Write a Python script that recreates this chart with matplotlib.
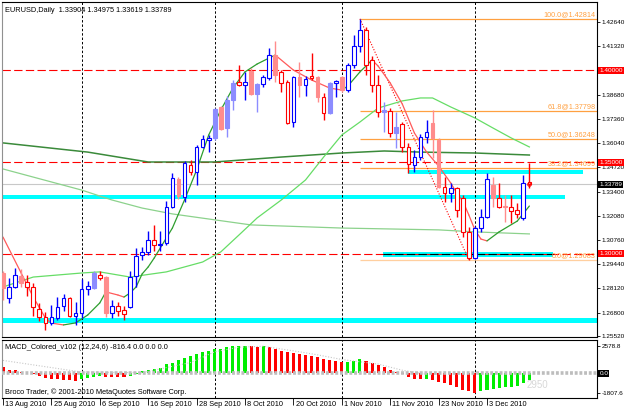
import matplotlib
matplotlib.use("Agg")
import matplotlib.pyplot as plt
import matplotlib.transforms as mtransforms
from matplotlib.patches import Rectangle

plt.rcParams['font.family'] = ['Liberation Sans', 'DejaVu Sans']

# ---------------- data ----------------
OPEN = [1.2896,1.2760,1.2820,1.2880,1.2847,1.2820,1.2700,1.2656,1.2623,1.2651,
        1.2716,1.2760,1.2662,1.2678,1.2809,1.2815,1.2885,1.2874,1.2678,1.2716,
        1.2694,1.2711,1.2880,1.2994,1.3011,1.3076,1.3049,1.3060,1.3256,1.3408,
        1.3310,1.3485,1.3447,1.3583,1.3621,1.3632,1.3801,1.3687,1.3839,1.3937,
        1.3921,1.3997,1.3872,1.3926,1.3959,1.4084,1.3992,1.3937,1.3719,1.3964,
        1.3921,1.3970,1.3964,1.3855,1.3768,1.3932,1.3964,1.3893,1.4030,1.4133,
        1.4220,1.4057,1.3921,1.3773,1.3779,1.3659,1.3708,1.3583,1.3485,1.3528,
        1.3637,1.3714,1.3621,1.3365,1.3332,1.3359,1.3305,1.3120,1.2978,1.3141,
        1.3201,1.3376,1.3305,1.3261,1.3256,1.3239,1.3196,1.33904]
HIGH = [1.2907,1.2869,1.2923,1.2918,1.2885,1.2842,1.2733,1.2684,1.2722,1.2765,
        1.2782,1.2765,1.2738,1.2863,1.2853,1.2907,1.2907,1.2880,1.2749,1.2738,
        1.2716,1.2907,1.3033,1.3038,1.3125,1.3158,1.3125,1.3288,1.3441,1.3419,
        1.3506,1.3512,1.3594,1.3648,1.3648,1.3795,1.3806,1.3861,1.3948,1.4030,
        1.3992,1.4013,1.3932,1.3975,1.4122,1.4160,1.4002,1.3948,1.3970,1.4046,
        1.3970,1.4095,1.3970,1.3877,1.3937,1.3948,1.3970,1.4041,1.4193,1.42814,
        1.4237,1.4079,1.3975,1.3828,1.3795,1.3773,1.3719,1.3605,1.3566,1.3654,
        1.3730,1.3784,1.3632,1.3419,1.3387,1.3365,1.3321,1.3147,1.3152,1.3245,
        1.3441,1.3419,1.3387,1.3321,1.3321,1.3278,1.3430,1.34975]
LOW = [1.2749,1.2733,1.2815,1.2820,1.2771,1.2662,1.2634,1.2585,1.2613,1.2640,
       1.2689,1.2656,1.2613,1.2651,1.2776,1.2809,1.2858,1.2656,1.2651,1.2662,
       1.2640,1.2705,1.2820,1.2967,1.2994,1.3016,1.3016,1.3049,1.3250,1.3299,
       1.3283,1.3430,1.3376,1.3577,1.3555,1.3621,1.3676,1.3637,1.3784,1.3915,
       1.3839,1.3866,1.3773,1.3910,1.3948,1.3937,1.3883,1.3708,1.3692,1.3855,
       1.3861,1.3948,1.3828,1.3730,1.3763,1.3855,1.3883,1.3883,1.4013,1.4101,
       1.3975,1.3883,1.3746,1.3665,1.3637,1.3577,1.3555,1.3441,1.3447,1.3512,
       1.3605,1.3523,1.3359,1.3283,1.3283,1.3201,1.3092,1.29683,1.2970,1.3120,
       1.3196,1.3256,1.3250,1.3174,1.3169,1.3196,1.3185,1.33619]
CLOSE = [1.2815,1.2820,1.2885,1.2842,1.2820,1.2711,1.2656,1.2623,1.2656,1.2711,
         1.2760,1.2662,1.2678,1.2809,1.2825,1.2896,1.2869,1.2678,1.2716,1.2689,
         1.2673,1.2874,1.2989,1.3011,1.3076,1.3049,1.3054,1.3256,1.3414,1.3316,
         1.3496,1.3447,1.3583,1.3626,1.3632,1.3790,1.3681,1.3839,1.3932,1.3921,
         1.3937,1.3872,1.3926,1.3964,1.4084,1.3975,1.3932,1.3714,1.3964,1.3921,
         1.3953,1.3959,1.3855,1.3768,1.3932,1.3943,1.3893,1.4030,1.4133,1.4220,
         1.4030,1.3921,1.3773,1.3784,1.3659,1.3692,1.3583,1.3490,1.3528,1.3637,
         1.3665,1.3632,1.3365,1.3332,1.3359,1.3239,1.3120,1.2978,1.3141,1.3201,
         1.3408,1.3305,1.3256,1.3256,1.3234,1.3218,1.3387,1.33789]

DATE_LABELS = ['13 Aug 2010', '25 Aug 2010', '6 Sep 2010', '16 Sep 2010', '28 Sep 2010',
               '8 Oct 2010', '20 Oct 2010', '1 Nov 2010', '11 Nov 2010', '23 Nov 2010', '3 Dec 2010']
DATE_BARS = [0, 8, 16, 24, 32, 40, 48, 56, 64, 72, 80]
MONTH_START_BARS = [13, 35, 56, 78]

PRICE_TICKS = [1.4264, 1.4132, 1.3868, 1.3736, 1.3604, 1.3472, 1.3340, 1.3208,
               1.3076, 1.2944, 1.2812, 1.2680, 1.2552]
PRICE_TICK_LABELS = ['1.42640', '1.41320', '1.38680', '1.37360', '1.36040', '1.34720', '1.33400',
                     '1.32080', '1.30760', '1.29440', '1.28120', '1.26800', '1.25520']

LEVELS = [1.40000, 1.35000, 1.30000]
LEVEL_LABELS = ['1.40000', '1.35000', '1.30000']
LAST_PRICE = 1.33789

# zones (rectangles): start bar, end bar, low, high
ZONE_START = [67, -2, 62.8, -2]
ZONE_END = [95.9, 92.9, 90.9, 100]
ZONE_LOW = [1.3438, 1.3299, 1.2985, 1.2623]
ZONE_HIGH = [1.3457, 1.3321, 1.3012, 1.2651]

FIB_START_BAR = 59
FIB_END_BAR = 77
FIB_PCT = ['100.0', '61.8', '50.0', '38.2', '0.0']
FIB_PRICE = [1.42814, 1.37798, 1.36248, 1.34699, 1.29683]

FAST_BARS = [0,3,5,7,8,10,12,14,16,17,19,20,21,22,23,24,25,27,28,30,32,34,36,38,40,42,44,45,48,51,
             54,56,57,59,61,62,64,66,68,70,72,74,75,76,77,78,79,80,82,85,87]
FAST_VALS = [1.3092,1.2896,1.2765,1.2651,1.2623,1.2613,1.2624,1.2667,1.2733,1.2793,1.2776,1.2765,
             1.2787,1.2820,1.2891,1.2929,1.2978,1.3087,1.3141,1.3294,1.3457,1.3648,1.3784,1.3904,
             1.3992,1.4035,1.4068,1.4084,1.4002,1.3948,1.3904,1.3893,1.3915,1.3992,1.4057,1.4024,
             1.3932,1.3817,1.3659,1.3556,1.3479,1.3387,1.3332,1.3288,1.3212,1.3131,1.3081,1.3071,
             1.3120,1.3179,1.3261]
MID_BARS = [0,5,13,16,21,27,33,36,39,42,46,50,53,56,59,62,66,69,71,74,78,81,84,87]
MID_VALS = [1.2820,1.2874,1.2896,1.2902,1.2874,1.2902,1.2956,1.3011,1.3103,1.3196,1.3294,1.3403,
            1.3528,1.3648,1.3719,1.3795,1.3834,1.3850,1.3850,1.3801,1.3741,1.3686,1.3632,1.3583]
SLOW1_BARS = [0,13,18,23,28,41,56,72,78,87]
SLOW1_VALS = [1.3463,1.3348,1.3294,1.3250,1.3218,1.3158,1.3141,1.3131,1.3120,1.3109]
SLOW2_BARS = [0,14,24,35,46,56,63,69,78,87]
SLOW2_VALS = [1.3605,1.3555,1.3501,1.3501,1.3528,1.3550,1.3561,1.3555,1.3550,1.3539]

HIST = [574,344,287,143,57,-86,-230,-430,-520,-570,
        -600,-620,-700,-517,-459,-373,-287,-330,-350,-370,
        -380,-230,-86,200,287,373,517,861,1005,1205,
        1435,1579,1779,1952,2066,2239,2296,2440,2526,2560,
        2578.8,2540,2500,2520,2440,2296,2066,1952,1866,1779,
        1665,1600,1492,1291,1205,1148,1090,1100,1148,1291,
        1148,1005,804,574,344,143,-30,-373,-517,-574,
        -517,-660,-804,-947,-1091,-1234,-1521,-1665,-1807.6,-1665,
        -1607,-1435,-1378,-1320,-1234,-1148,-947,-660]
SIG_BARS = [0,13,23,31,35,39,43,49,52,56,62,66,70]
SIG_VALS = [1205,115,57,1005,2009,2440,2526,2009,1722,1291,861,287,-86]
MACD_MAX_LABEL = '2578.8'
MACD_MIN_LABEL = '-1807.6'
MACD_MAX = 2578.8
MACD_MIN = -1807.6
WATERMARK = '2950'

PALE = {0,3,15,17,29,35,36,37,38,41,42,45,49,52,54,56,63,65,71,72,81,83}

# ---------------- layout ----------------
W, H = 625, 411
fig = plt.figure(figsize=(W/100, H/100), dpi=100)
fig.patch.set_facecolor('white')

def fpx(x0, y0, x1, y1):
    return [x0/W, 1 - y1/H, (x1-x0)/W, (y1-y0)/H]

ax = fig.add_axes(fpx(2, 2, 597, 337))
mx = fig.add_axes(fpx(2, 340, 597, 398))

PX_PER_BAR = 6.05
XL = (2 - 3) / PX_PER_BAR
XR = (597 - 3) / PX_PER_BAR
for a in (ax, mx):
    a.set_xlim(XL, XR)
    a.set_facecolor('white')
    for s in a.spines.values():
        s.set_color('black'); s.set_linewidth(0.8)
    a.spines['left'].set_color('#909090')
ax.set_ylim(1.25472, 1.43730)
mx.set_ylim(-2308, 3111)

BLUE = '#0000ff'; RED = '#ff0000'
PBLUE = '#8c8cff'; PRED = '#ff8c8c'
ORANGE = '#ffa040'
AXFS = 4.6

# zones
for s, e, lo, hi in zip(ZONE_START, ZONE_END, ZONE_LOW, ZONE_HIGH):
    ax.add_patch(Rectangle((s, lo), e - s, hi - lo, facecolor='#00ffff', edgecolor='none', zorder=1))

# horizontal lines
ax.axhline(LAST_PRICE, color='#c8c8c8', lw=0.8, zorder=1.5)
for lv in LEVELS:
    ax.axhline(lv, color=RED, lw=0.8, ls=(0, (7.5, 3)), zorder=1.6)
ax.hlines(LEVELS[2], ZONE_START[2], ZONE_END[2], color='black', lw=0.8, ls=(0, (7.5, 3)), zorder=1.7)

# fib
for pct, pr in zip(FIB_PCT, FIB_PRICE):
    col = '#ffcf9f' if pct == '0.0' else ORANGE
    ax.hlines(pr, FIB_START_BAR, XR, color=col, lw=0.9, zorder=1.8)
    ax.text((596 - 3) / PX_PER_BAR, pr + 0.0004, f'{pct}@{pr:.5f}', color=ORANGE,
            fontsize=5.2, ha='right', va='bottom', zorder=5)
ax.plot([FIB_START_BAR, FIB_END_BAR], [FIB_PRICE[0], FIB_PRICE[-1]], color=RED, lw=0.8,
        ls=(0, (1, 1.5)), zorder=2)

# month separators
for b in MONTH_START_BARS:
    for a in (ax, mx):
        a.axvline(b, color='black', lw=0.7, ls=(0, (2.5, 2)), zorder=1.9)

# moving averages
ax.plot(SLOW2_BARS, SLOW2_VALS, color='#3a8a3a', lw=1.1, zorder=2)
ax.plot(SLOW1_BARS, SLOW1_VALS, color='#8cd28c', lw=0.9, zorder=2)
ax.plot(MID_BARS, MID_VALS, color='#66dd66', lw=0.9, zorder=2)
for i in range(len(FAST_BARS) - 1):
    rising = FAST_VALS[i + 1] >= FAST_VALS[i]
    ax.plot(FAST_BARS[i:i + 2], FAST_VALS[i:i + 2], color='#2e9e2e' if rising else '#ff5a5a',
            lw=0.9, zorder=2.2, solid_capstyle='round')

# candles
for i, (o, h, l, c) in enumerate(zip(OPEN, HIGH, LOW, CLOSE)):
    up = c >= o
    pale = i in PALE
    col = (PBLUE if pale else BLUE) if up else (PRED if pale else RED)
    fill = col if pale else 'white'
    ax.vlines(i, l, h, color=col, lw=1.0, zorder=3)
    bot = min(o, c)
    ht = max(abs(c - o), 0.00035)
    ax.add_patch(Rectangle((i - 0.3, bot), 0.6, ht, facecolor=fill, edgecolor=col, lw=0.8, zorder=3.5))
ax.plot([len(CLOSE) - 1], [CLOSE[-1]], 'o', ms=2.5, mfc='none', mec=RED, mew=0.8, zorder=4)

# price axis
ax.yaxis.tick_right()
ax.set_yticks(PRICE_TICKS)
ax.set_yticklabels(PRICE_TICK_LABELS, fontsize=AXFS)
ax.tick_params(axis='y', length=2.5, width=0.6, pad=0.8, direction='out', colors='black')
ax.set_xticks([])
ytr = mtransforms.blended_transform_factory(ax.transAxes, ax.transData)
for lv, lab in zip(LEVELS, LEVEL_LABELS):
    ax.text(1.004, lv, lab, transform=ytr, fontsize=AXFS, color='white', va='center', ha='left',
            bbox=dict(boxstyle='square,pad=0.15', fc=RED, ec='none'), clip_on=False, zorder=6)
ax.text(1.004, LAST_PRICE, f'{LAST_PRICE:.5f}', transform=ytr, fontsize=AXFS, color='white',
        va='center', ha='left', bbox=dict(boxstyle='square,pad=0.15', fc='black', ec='none'),
        clip_on=False, zorder=6)

ax.text(0.005, 0.985, f'EURUSD,Daily  {OPEN[-1]:.5f} {HIGH[-1]:.5f} {LOW[-1]:.5f} {CLOSE[-1]:.5f}',
        transform=ax.transAxes, fontsize=5.3, va='top', ha='left')

# MACD
cols = []
for i, v in enumerate(HIST):
    cols.append('#00ee00' if i > 0 and v > HIST[i - 1] else '#ff0000')
mx.text(88.3, -1100, WATERMARK, fontsize=7, color='#d8d8d8', ha='center', va='center', zorder=1)
mx.bar(range(len(HIST)), HIST, width=0.5, color=cols, zorder=2)
mx.axhline(0, xmin=0, xmax=1, color='#bdbdbd', lw=2.6, ls=(0, (0.8, 0.5)), zorder=3)
mx.plot(SIG_BARS, SIG_VALS, color='#c8c8c8', lw=0.8, ls=(0, (1, 1.5)), zorder=2.5)
mx.yaxis.tick_right()
mx.set_yticks([MACD_MAX, MACD_MIN])
mx.set_yticklabels([MACD_MAX_LABEL, MACD_MIN_LABEL], fontsize=AXFS)
mx.tick_params(axis='y', length=2.5, width=0.6, pad=0.8, direction='out')
mtr = mtransforms.blended_transform_factory(mx.transAxes, mx.transData)
mx.text(1.004, 0, '0.0', transform=mtr, fontsize=AXFS, color='white', va='center', ha='left',
        bbox=dict(boxstyle='square,pad=0.15', fc='black', ec='none'), clip_on=False, zorder=6)
mx.text(0.005, 0.87, 'MACD_Colored_v102 (12,24,6) -816.4 0.0 0.0 0.0', transform=mx.transAxes,
        fontsize=5.3, va='center', ha='left')
mx.text(0.005, 0.1, 'Broco Trader, \u00a9 2001-2010 MetaQuotes Software Corp.', transform=mx.transAxes,
        fontsize=5.3, va='center', ha='left')

mx.set_xticks(DATE_BARS)
mx.set_xticklabels([''] * len(DATE_BARS))
mx.tick_params(axis='x', length=5, width=0.6, direction='out')
xtr = mtransforms.blended_transform_factory(mx.transData, mx.transAxes)
for b, lab in zip(DATE_BARS, DATE_LABELS):
    mx.text(b + 0.35, -0.05, lab, transform=xtr, fontsize=5.3, va='top', ha='left', clip_on=False)

fig.savefig('out.png', dpi=100, facecolor='white')
